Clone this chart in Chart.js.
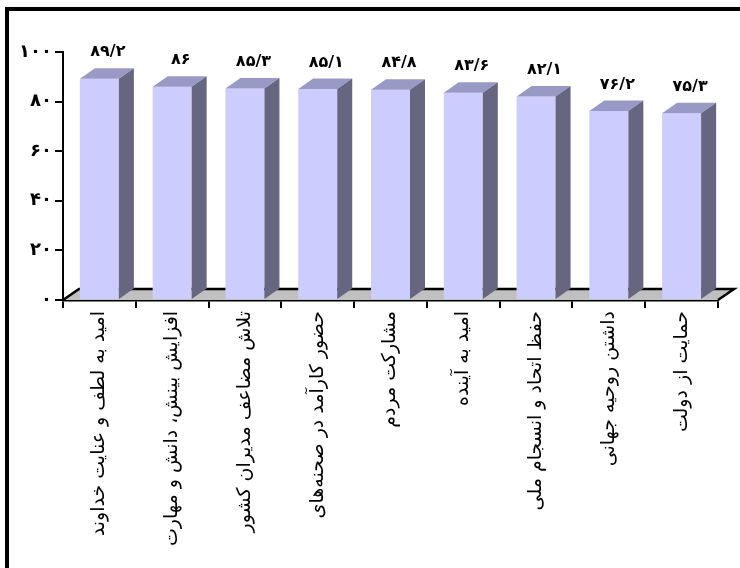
<!DOCTYPE html>
<html><head><meta charset="utf-8">
<script src="https://cdn.jsdelivr.net/npm/chart.js@4"></script>
<style>html,body{margin:0;padding:0;background:#fff}
#wrap{position:relative;width:740px;height:568px}
</style></head><body>
<div id="wrap"><canvas id="c" width="740" height="568"></canvas></div>
<script>
const categories = [
  'امید به لطف و عنایت خداوند',
  'افزایش بینش، دانش و مهارت',
  'تلاش مضاعف مدیران کشور',
  'حضور کارآمد در صحنه‌های',
  'مشارکت مردم',
  'امید به آینده',
  'حفظ اتحاد و انسجام ملی',
  'داشتن روحیه جهانی',
  'حمایت از دولت'
];
const values = [89.2, 86, 85.3, 85.1, 84.8, 83.6, 82.1, 76.2, 75.3];
const yTickValues = [0, 20, 40, 60, 80, 100];
const yTickLabels = ['۰', '۲۰', '۴۰', '۶۰', '۸۰', '۱۰۰'];

const FA_DIGITS = '۰۱۲۳۴۵۶۷۸۹';
const toFa = v => String(v).replace(/\d/g, d => FA_DIGITS[d]).replace('.', '/');

const FONT = 'DejaVu Sans';
const DX = 15, DY = 10.5, FDX = 16, FDY = 11;
const FRONT = '#ccccff', TOP = '#9999c6', SIDE = '#666680', FLOOR = '#c0c0c0';

const frame = {
  id: 'frame',
  beforeDraw(chart) {
    const ctx = chart.ctx;
    ctx.save();
    ctx.fillStyle = '#000';
    ctx.fillRect(5, 7, 735, 4);
    ctx.fillRect(5, 7, 4, 561);
    ctx.restore();
  }
};

const bars3d = {
  id: 'bars3d',
  beforeDatasetsDraw(chart) {
    const ctx = chart.ctx, a = chart.chartArea;
    const yb = chart.scales.y.getPixelForValue(0);
    ctx.save();
    ctx.beginPath();
    ctx.moveTo(a.left, yb);
    ctx.lineTo(a.left + FDX, yb - FDY);
    ctx.lineTo(a.right + FDX, yb - FDY);
    ctx.lineTo(a.right, yb);
    ctx.closePath();
    ctx.fillStyle = FLOOR;
    ctx.fill();
    ctx.beginPath();
    ctx.moveTo(a.left, yb);
    ctx.lineTo(a.left + FDX, yb - FDY);
    ctx.lineTo(a.right + FDX, yb - FDY);
    ctx.lineTo(a.right, yb);
    ctx.lineWidth = 2.5;
    ctx.strokeStyle = '#000';
    ctx.lineJoin = 'miter';
    ctx.stroke();
    ctx.restore();
  },
  afterDatasetsDraw(chart) {
    const ctx = chart.ctx;
    const meta = chart.getDatasetMeta(0);
    ctx.save();
    meta.data.forEach((el, i) => {
      const w = el.width, l = el.x - w / 2, r = el.x + w / 2, t = el.y, b = el.base;
      ctx.beginPath();
      ctx.moveTo(l, t); ctx.lineTo(l + DX, t - DY); ctx.lineTo(r + DX, t - DY); ctx.lineTo(r, t); ctx.closePath();
      ctx.fillStyle = TOP; ctx.fill();
      ctx.beginPath();
      ctx.moveTo(r, t); ctx.lineTo(r + DX, t - DY); ctx.lineTo(r + DX, b - DY); ctx.lineTo(r, b); ctx.closePath();
      ctx.fillStyle = SIDE; ctx.fill();
      ctx.fillStyle = '#000';
      ctx.font = 'bold 16px "' + FONT + '"';
      ctx.textAlign = 'center';
      ctx.textBaseline = 'middle';
      ctx.fillText(toFa(values[i]), el.x + DX / 2 + 1, t - DY - 16);
    });
    ctx.restore();
  }
};

new Chart(document.getElementById('c'), {
  type: 'bar',
  data: {
    labels: categories,
    datasets: [{
      data: values,
      backgroundColor: FRONT,
      borderWidth: 0,
      barPercentage: 0.536,
      categoryPercentage: 1.0
    }]
  },
  options: {
    responsive: false,
    animation: false,
    devicePixelRatio: 1,
    layout: { padding: { left: 0, top: 52, right: 22, bottom: 0 } },
    plugins: { legend: { display: false }, tooltip: { enabled: false }, title: { display: false } },
    scales: {
      x: {
        afterFit(s) { s.height = 268; },
        border: { display: true, color: '#000', width: 2.5 },
        grid: { display: true, drawOnChartArea: false, drawTicks: true, tickLength: 8, color: '#000', lineWidth: 2, offset: true },
        ticks: { autoSkip: false, maxRotation: 90, minRotation: 90, padding: 3, color: '#000', font: { family: FONT, size: 19 } }
      },
      y: {
        min: 0, max: 100,
        afterFit(s) { s.width = 63; },
        afterBuildTicks(s) { s.ticks = yTickValues.map(v => ({ value: v })); },
        border: { display: true, color: '#000', width: 2 },
        grid: { display: true, drawOnChartArea: false, drawTicks: true, tickLength: 8, color: '#000', lineWidth: 2 },
        ticks: {
          padding: 3, color: '#000', font: { family: FONT, size: 18, weight: 'bold' },
          callback: (v, i) => yTickLabels[yTickValues.indexOf(v)]
        }
      }
    }
  },
  plugins: [frame, bars3d]
});
</script>
</body></html>
